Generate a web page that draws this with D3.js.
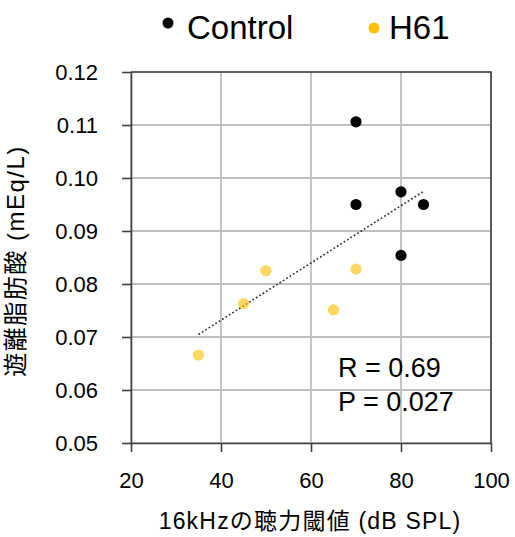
<!DOCTYPE html>
<html lang="ja">
<head>
<meta charset="UTF-8">
<title>遊離脂肪酸 vs 16kHz 聴力閾値</title>
<script src="https://cdnjs.cloudflare.com/ajax/libs/d3/7.8.5/d3.min.js"></script>
<style>
  body { margin: 0; background: #fff; }
  svg text { font-family: "Liberation Sans", Arial, "Noto Sans CJK JP", sans-serif; fill: #000; }
</style>
</head>
<body>
<div id="chart"></div>
<script>
    // data
    var controlX = [70, 80, 70, 85, 80];
    var controlY = [0.1106, 0.0974, 0.0950, 0.0950, 0.0854];
    var h61X = [35, 45, 50, 65, 70];
    var h61Y = [0.0666, 0.0763, 0.0825, 0.0751, 0.0828];
    var xTicks = [20, 40, 60, 80, 100];
    var yTicks = [0.05, 0.06, 0.07, 0.08, 0.09, 0.10, 0.11, 0.12];
    var statLines = ["R = 0.69", "P = 0.027"];

    var W = 515, H = 537;
    var margin = {top: 72, right: 24, bottom: 94, left: 131};
    var width = 491 - margin.left,
        height = 443 - margin.top;

    var svg = d3.select("#chart").append("svg")
        .attr("width", W)
        .attr("height", H);

    var g = svg.append("g")
        .attr("transform", "translate(" + margin.left + "," + margin.top + ")");

    var x = d3.scaleLinear().domain([20, 100]).range([0, width]);
    var y = d3.scaleLinear().domain([0.05, 0.12]).range([height, 0]);

    // grid
    g.append("g").selectAll("line").data(xTicks).join("line")
        .attr("x1", d => x(d)).attr("x2", d => x(d))
        .attr("y1", 0).attr("y2", height)
        .attr("stroke", "#bfbfbf").attr("stroke-width", 1.8);
    g.append("g").selectAll("line").data(yTicks).join("line")
        .attr("x1", 0).attr("x2", width)
        .attr("y1", d => y(d)).attr("y2", d => y(d))
        .attr("stroke", "#bfbfbf").attr("stroke-width", 1.8);

    // frame on top and right
    g.append("path")
        .attr("d", "M0,0H" + width + "V" + height)
        .attr("fill", "none").attr("stroke", "#404040").attr("stroke-width", 1.6);

    var xAxis = d3.axisBottom(x).tickValues(xTicks).tickSize(9).tickPadding(20).tickSizeOuter(0);
    var yAxis = d3.axisLeft(y).tickValues(yTicks).tickSize(9).tickPadding(24).tickSizeOuter(0)
        .tickFormat(d3.format(".2f"));

    var gx = g.append("g").attr("transform", "translate(0," + height + ")").call(xAxis);
    var gy = g.append("g").call(yAxis);
    [gx, gy].forEach(function (a) {
        a.select(".domain").attr("stroke", "#404040").attr("stroke-width", 1.6);
        a.selectAll(".tick line").attr("stroke", "#404040").attr("stroke-width", 1.6);
        a.selectAll(".tick text").style("font-size", "22px").attr("fill", "#000");
    });
    gx.selectAll(".tick text").attr("dy", "0.71em");
    gy.selectAll(".tick text").attr("dy", "0.35em");

    // trend line (least squares over all points)
    var allX = controlX.concat(h61X), allY = controlY.concat(h61Y);
    var mx = d3.mean(allX), my = d3.mean(allY);
    var sxy = d3.sum(allX, (v, i) => (v - mx) * (allY[i] - my));
    var sxx = d3.sum(allX, v => (v - mx) * (v - mx));
    var slope = sxy / sxx, icpt = my - slope * mx;
    var xr = d3.extent(allX);
    g.append("line")
        .attr("x1", x(xr[0])).attr("y1", y(icpt + slope * xr[0]))
        .attr("x2", x(xr[1])).attr("y2", y(icpt + slope * xr[1]))
        .attr("stroke", "#333").attr("stroke-width", 1.6)
        .attr("stroke-dasharray", "1.8,2.2");

    // points
    g.append("g").selectAll("circle").data(h61X).join("circle")
        .attr("cx", d => x(d)).attr("cy", (d, i) => y(h61Y[i]))
        .attr("r", 5.6).attr("fill", "#ffc000").attr("fill-opacity", 0.62);
    g.append("g").selectAll("circle").data(controlX).join("circle")
        .attr("cx", d => x(d)).attr("cy", (d, i) => y(controlY[i]))
        .attr("r", 5.6).attr("fill", "#000");

    // stats text
    g.append("g").selectAll("text").data(statLines).join("text")
        .attr("x", 207).attr("y", (d, i) => 305 + i * 34)
        .style("font-size", "27px")
        .text(d => d);

    // legend
    svg.append("circle").attr("cx", 168).attr("cy", 23).attr("r", 5.5).attr("fill", "#000");
    svg.append("text").attr("x", 187).attr("y", 39).style("font-size", "33px").text("Control");
    svg.append("circle").attr("cx", 374).attr("cy", 28).attr("r", 5.5).attr("fill", "#ffc000");
    svg.append("text").attr("x", 389).attr("y", 39).style("font-size", "33px").text("H61");

    // axis titles
    svg.append("text")
        .attr("x", margin.left + width / 2 - 1).attr("y", 529)
        .attr("text-anchor", "middle")
        .style("font-size", "23px")
        .style("letter-spacing", "1.2px")
        .text("16kHzの聴力閾値 (dB SPL)");

    svg.append("text")
        .attr("transform", "rotate(-90)")
        .attr("x", -261).attr("y", 24)
        .attr("text-anchor", "middle")
        .style("font-size", "24px")
        .style("letter-spacing", "1.5px")
        .text("遊離脂肪酸 (mEq/L)");
</script>
</body>
</html>
